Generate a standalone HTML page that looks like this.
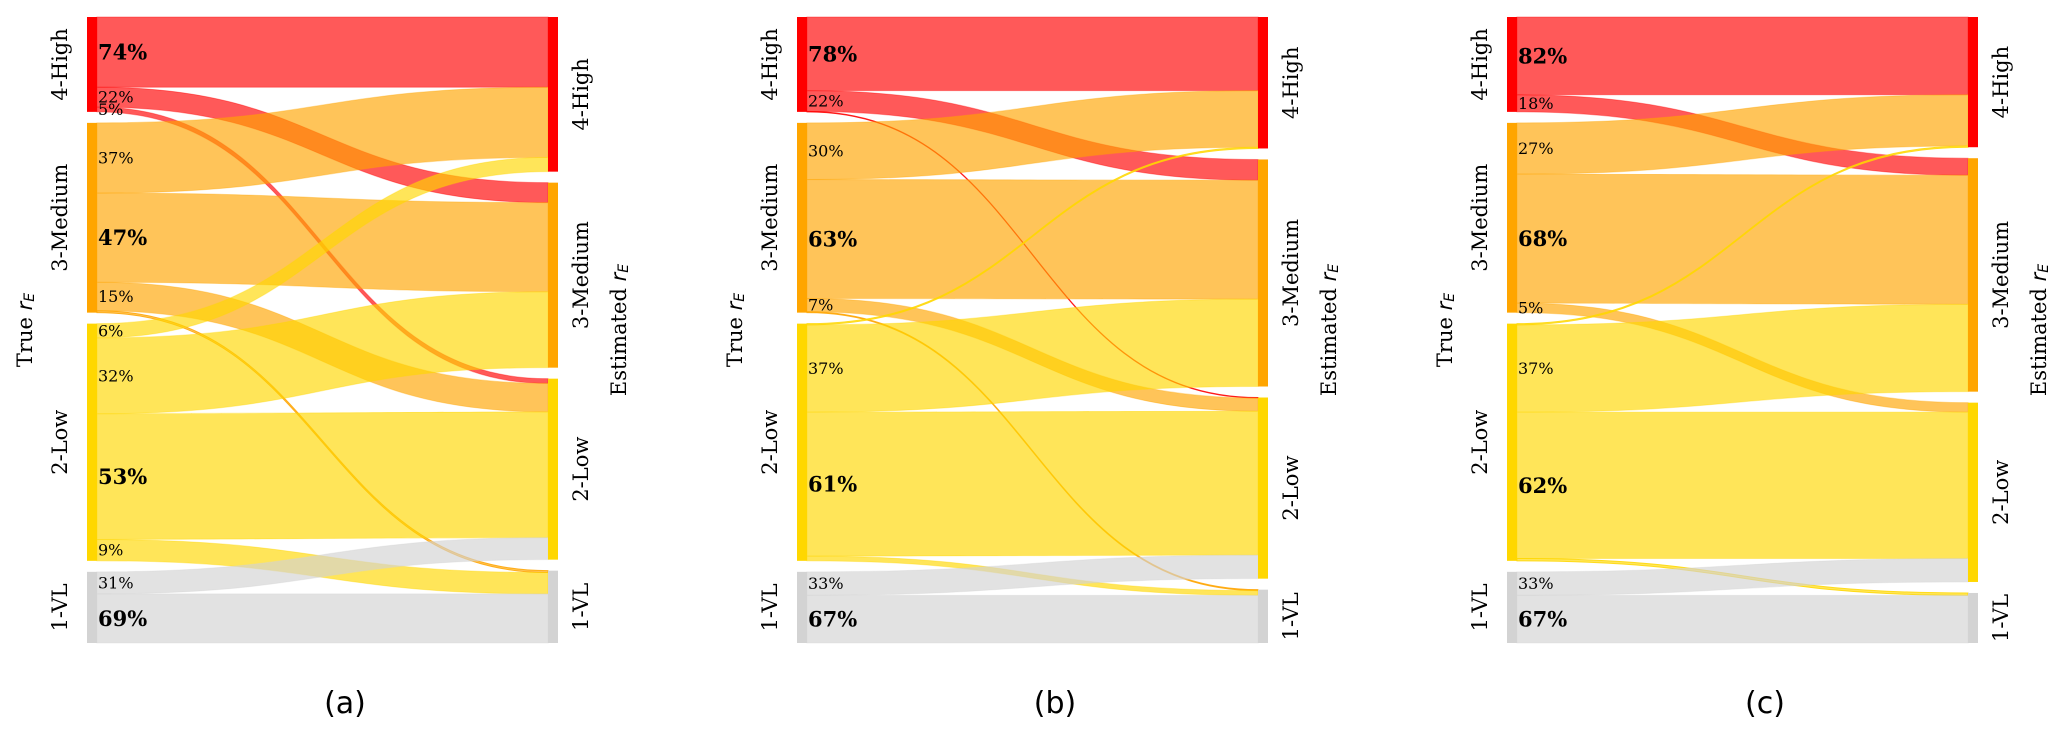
<!DOCTYPE html>
<html><head><meta charset="utf-8"><style>
html,body{margin:0;padding:0;background:#fff;}
svg{display:block;}
</style></head><body>
<svg id="chart" width="2067" height="734" xmlns="http://www.w3.org/2000/svg"></svg>
<script>
// categories (source rows / target cols order)
const categories = ["4-High", "3-Medium", "2-Low", "1-VL"];
// node totals (number of items per true class)
const trueTotals = [40, 80, 100, 30];
// percentage flow matrices per panel: rows = true class, cols = estimated class
const panelA = [[74, 21, 5, 0], [37, 47, 15, 1], [6, 32, 53, 9], [0, 0, 31, 69]];
const panelB = [[78, 22, 0.5, 0], [30, 63, 7, 0.5], [0.5, 37, 61, 2], [0, 0, 33, 67]];
const panelC = [[82, 18, 0, 0], [27, 68, 5, 0], [0.5, 37, 62, 1], [0, 0, 33, 67]];
// printed labels per panel (null = not printed)
const labelsA = [["74%", "22%", "5%", null], ["37%", "47%", "15%", null], ["6%", "32%", "53%", "9%"], [null, null, "31%", "69%"]];
const labelsB = [["78%", "22%", null, null], ["30%", "63%", "7%", null], [null, "37%", "61%", null], [null, null, "33%", "67%"]];
const labelsC = [["82%", "18%", null, null], ["27%", "68%", "5%", null], [null, "37%", "62%", null], [null, null, "33%", "67%"]];
const captions = ["(a)", "(b)", "(c)"];

const NS = "http://www.w3.org/2000/svg";
const svg = document.getElementById("chart");
const nodeColors = ["#ff0000", "#ffa500", "#ffd700", "#d3d3d3"];
const TOP = 17, BOTTOM = 643, GAP = 11, BARW = 10, FLOWW = 451;

function el(tag, attrs, parent) {
  const e = document.createElementNS(NS, tag);
  for (const k in attrs) e.setAttribute(k, attrs[k]);
  (parent || svg).appendChild(e);
  return e;
}

function drawPanel(matrix, labels, caption, x0, key) {
  const g = el("g", {});
  
  
  const total = trueTotals.reduce((a, b) => a + b, 0);
  const scale = (BOTTOM - TOP - GAP * 3) / total;
  const flows = matrix.map((row, i) => {
    const s = row.reduce((a, b) => a + b, 0);
    return row.map(v => trueTotals[i] * v / s);
  });
  const outTotals = categories.map((_, j) => flows.reduce((a, r) => a + r[j], 0));
  const xL = x0, xR = x0 + BARW + FLOWW;
  const leftY = [], rightY = [];
  let y = TOP;
  trueTotals.forEach((t, i) => { leftY.push(y); y += t * scale + GAP; });
  y = TOP;
  outTotals.forEach((t, j) => { rightY.push(y); y += t * scale + GAP; });
  const srcOff = leftY.slice(), tgtOff = rightY.slice();
  const fg = el("g", {}, g);
  const labelG = el("g", {}, g);
  for (let i = 0; i < 4; i++) {
    for (let j = 0; j < 4; j++) {
      const v = flows[i][j];
      if (v <= 0) continue;
      const h = v * scale;
      const y0 = srcOff[i], y1 = tgtOff[j];
      srcOff[i] += h; tgtOff[j] += h;
      const xa = xL + BARW, xb = xR, xm = (xa + xb) / 2;
      const d = `M${xa},${y0} C${xm},${y0} ${xm},${y1} ${xb},${y1} L${xb},${y1 + h} C${xm},${y1 + h} ${xm},${y0 + h} ${xa},${y0 + h} Z`;
      const thin = h < 4;
      const p = el("path", { d: d, fill: nodeColors[i], "fill-opacity": 0.65, stroke: nodeColors[i], "stroke-opacity": thin ? 0.85 : 0.35, "stroke-width": thin ? 1 : 1 }, fg);
      
      
      const lab = labels[i][j];
      if (lab) {
        const big = i === j;
        const t = el("text", { x: xa + 1, y: y0 + h / 2, "dominant-baseline": "central", "font-family": "DejaVu Serif, Liberation Serif, serif", "font-size": big ? 21 : 16, "font-weight": big ? "bold" : "normal", fill: "#000" }, labelG);
        t.textContent = lab;
        
        
      }
    }
  }
  for (let i = 0; i < 4; i++) {
    const r = el("rect", { x: xL, y: leftY[i], width: BARW, height: trueTotals[i] * scale, fill: nodeColors[i] }, g);
    
    
    const r2 = el("rect", { x: xR, y: rightY[i], width: BARW, height: outTotals[i] * scale, fill: nodeColors[i] }, g);
    
    
    const cyL = leftY[i] + trueTotals[i] * scale / 2;
    const t1 = el("text", { x: 0, y: 0, transform: `translate(${xL - 27},${cyL}) rotate(-90)`, "text-anchor": "middle", "dominant-baseline": "central", "font-family": "DejaVu Serif, Liberation Serif, serif", "font-size": 21 }, g);
    t1.textContent = categories[i];
    
    
    const cyR = rightY[i] + outTotals[i] * scale / 2;
    const t2 = el("text", { x: 0, y: 0, transform: `translate(${xR + BARW + 23},${cyR}) rotate(-90)`, "text-anchor": "middle", "dominant-baseline": "central", "font-family": "DejaVu Serif, Liberation Serif, serif", "font-size": 21 }, g);
    t2.textContent = categories[i];
    
    
  }
  const midY = (TOP + BOTTOM) / 2;
  const ta = el("text", { x: 0, y: 0, transform: `translate(${xL - 62},${midY}) rotate(-90)`, "text-anchor": "middle", "dominant-baseline": "central", "font-family": "DejaVu Serif, Liberation Serif, serif", "font-size": 21 }, g);
  ta.innerHTML = 'True <tspan font-style="italic" font-family="DejaVu Sans, sans-serif">r</tspan><tspan font-style="italic" font-family="DejaVu Sans, sans-serif" font-size="14" dy="5">E</tspan>';
  
  
  const tb = el("text", { x: 0, y: 0, transform: `translate(${xR + BARW + 61},${midY}) rotate(-90)`, "text-anchor": "middle", "dominant-baseline": "central", "font-family": "DejaVu Serif, Liberation Serif, serif", "font-size": 21 }, g);
  tb.innerHTML = 'Estimated <tspan font-style="italic" font-family="DejaVu Sans, sans-serif">r</tspan><tspan font-style="italic" font-family="DejaVu Sans, sans-serif" font-size="14" dy="5">E</tspan>';
  
  
  const cap = el("text", { x: x0 + 258, y: 713, "text-anchor": "middle", "font-family": "DejaVu Sans, Liberation Sans, sans-serif", "font-size": 30 }, g);
  cap.textContent = caption;
  
  
}

drawPanel(panelA, labelsA, captions[0], 87, "a");
drawPanel(panelB, labelsB, captions[1], 797, "b");
drawPanel(panelC, labelsC, captions[2], 1507, "c");
</script>
</body></html>
